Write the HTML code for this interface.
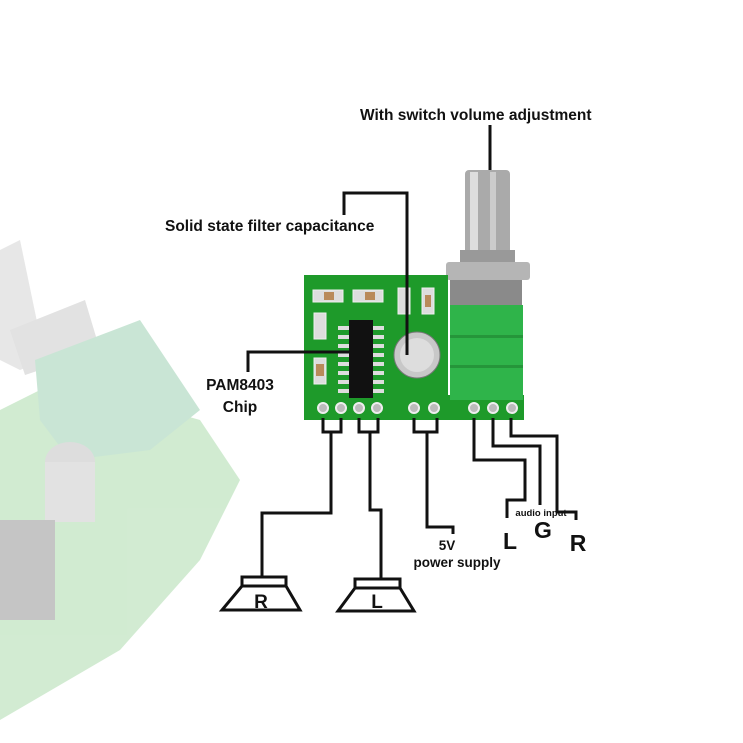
<!DOCTYPE html>
<html><head><meta charset="utf-8"><style>
html,body{margin:0;padding:0;background:#fff;}
svg{display:block;}
text{font-family:"Liberation Sans",sans-serif;font-weight:bold;fill:#111;}
</style></head><body>
<svg width="743" height="743" viewBox="0 0 743 743" xmlns="http://www.w3.org/2000/svg">
<!-- faded background module -->
<g opacity="0.28">
  <polygon points="0,410 60,380 200,420 240,480 200,560 120,650 0,720" fill="#5cb85c"/>
  <polygon points="0,250 20,240 45,360 20,370 0,360" fill="#aaa"/>
  <polygon points="10,330 85,300 100,350 25,375" fill="#999"/>
  <polygon points="35,360 140,320 200,410 150,450 70,460 40,420" fill="#3fa66a"/>
  <ellipse cx="70" cy="462" rx="25" ry="20" fill="#888"/>
  <rect x="45" y="462" width="50" height="60" fill="#999"/>
  <rect x="0" y="520" width="55" height="100" fill="#333"/>
</g>
<!-- potentiometer shaft -->
<rect x="465" y="170" width="45" height="90" rx="4" fill="#aaa"/>
<rect x="470" y="172" width="8" height="85" fill="#ddd"/>
<rect x="490" y="172" width="6" height="85" fill="#ccc"/>
<rect x="460" y="250" width="55" height="12" fill="#999"/>
<rect x="446" y="262" width="84" height="18" rx="3" fill="#b5b5b5"/>
<rect x="450" y="280" width="72" height="26" fill="#8a8a8a"/>
<!-- board -->
<rect x="304" y="275" width="144" height="145" fill="#1e9a2a"/>
<rect x="440" y="395" width="84" height="25" fill="#1e9a2a"/>
<rect x="450" y="305" width="73" height="95" fill="#2fb44a"/>
<rect x="450" y="335" width="73" height="3" fill="#25963a"/>
<rect x="450" y="365" width="73" height="3" fill="#25963a"/>
<!-- smd parts -->
<g fill="#ddd" stroke="#eee">
<rect x="313" y="290" width="30" height="12"/><rect x="353" y="290" width="30" height="12"/>
<rect x="398" y="288" width="12" height="26"/><rect x="422" y="288" width="12" height="26"/>
<rect x="314" y="313" width="12" height="26"/><rect x="314" y="358" width="12" height="26"/>
</g>
<g fill="#b98a5a"><rect x="324" y="292" width="10" height="8"/><rect x="365" y="292" width="10" height="8"/><rect x="425" y="295" width="6" height="12"/><rect x="316" y="364" width="8" height="12"/></g>
<!-- chip -->
<g fill="#ddd">
<rect x="338" y="326" width="14" height="4"/><rect x="338" y="335" width="14" height="4"/><rect x="338" y="344" width="14" height="4"/><rect x="338" y="353" width="14" height="4"/><rect x="338" y="362" width="14" height="4"/><rect x="338" y="371" width="14" height="4"/><rect x="338" y="380" width="14" height="4"/><rect x="338" y="389" width="14" height="4"/>
<rect x="370" y="326" width="14" height="4"/><rect x="370" y="335" width="14" height="4"/><rect x="370" y="344" width="14" height="4"/><rect x="370" y="353" width="14" height="4"/><rect x="370" y="362" width="14" height="4"/><rect x="370" y="371" width="14" height="4"/><rect x="370" y="380" width="14" height="4"/><rect x="370" y="389" width="14" height="4"/>
</g>
<rect x="349" y="320" width="24" height="78" fill="#111"/>
<!-- capacitor -->
<circle cx="417" cy="355" r="23" fill="#c8c8c8" stroke="#777"/>
<circle cx="417" cy="355" r="17" fill="#ddd"/>
<!-- pins -->
<g fill="#bbb" stroke="#eee" stroke-width="2">
<circle cx="323" cy="408" r="5"/><circle cx="341" cy="408" r="5"/><circle cx="359" cy="408" r="5"/><circle cx="377" cy="408" r="5"/><circle cx="414" cy="408" r="5"/><circle cx="434" cy="408" r="5"/><circle cx="474" cy="408" r="5"/><circle cx="493" cy="408" r="5"/><circle cx="512" cy="408" r="5"/>
</g>
<!-- connectors -->
<g fill="none" stroke="#111" stroke-width="3">
<polyline points="490,125 490,170"/>
<polyline points="344,215 344,193 407,193 407,355"/>
<polyline points="248,372 248,352 350,352"/>
<polyline points="323,418 323,432 341,432 341,418"/>
<polyline points="331,432 331,513 262,513 262,577"/>
<polyline points="359,418 359,432 378,432 378,418"/>
<polyline points="370,432 370,510 381,510 381,578"/>
<polyline points="414,418 414,432 437,432 437,418"/>
<polyline points="427,432 427,527 453,527 453,534"/>
<polyline points="474,418 474,460 525,460 525,500 507,500 507,518"/>
<polyline points="493,418 493,446 540,446 540,505"/>
<polyline points="511,418 511,436 557,436 557,512 576,512 576,520"/>
<rect x="242" y="577" width="44" height="9"/>
<polygon points="242,586 286,586 300,610 222,610"/>
<rect x="355" y="579" width="45" height="9"/>
<polygon points="355,588 400,588 414,611 338,611"/>
</g>
<!-- labels -->
<text x="360" y="120" font-size="15.5">With switch volume adjustment</text>
<text x="165" y="231" font-size="15.5">Solid state filter capacitance</text>
<text x="240" y="390" font-size="15.5" text-anchor="middle">PAM8403</text>
<text x="240" y="412" font-size="15.5" text-anchor="middle">Chip</text>
<text x="447" y="550" font-size="13.5" font-weight="normal" text-anchor="middle">5V</text>
<text x="457" y="567" font-size="13.5" font-weight="normal" text-anchor="middle">power supply</text>
<text x="541" y="516" font-size="9.5" font-weight="normal" text-anchor="middle">audio input</text>
<text x="510" y="549" font-size="23" text-anchor="middle">L</text>
<text x="543" y="538" font-size="23" text-anchor="middle">G</text>
<text x="578" y="551" font-size="23" text-anchor="middle">R</text>
<text x="261" y="608" font-size="19" text-anchor="middle">R</text>
<text x="377" y="608" font-size="19" text-anchor="middle">L</text>
</svg>
</body></html>
